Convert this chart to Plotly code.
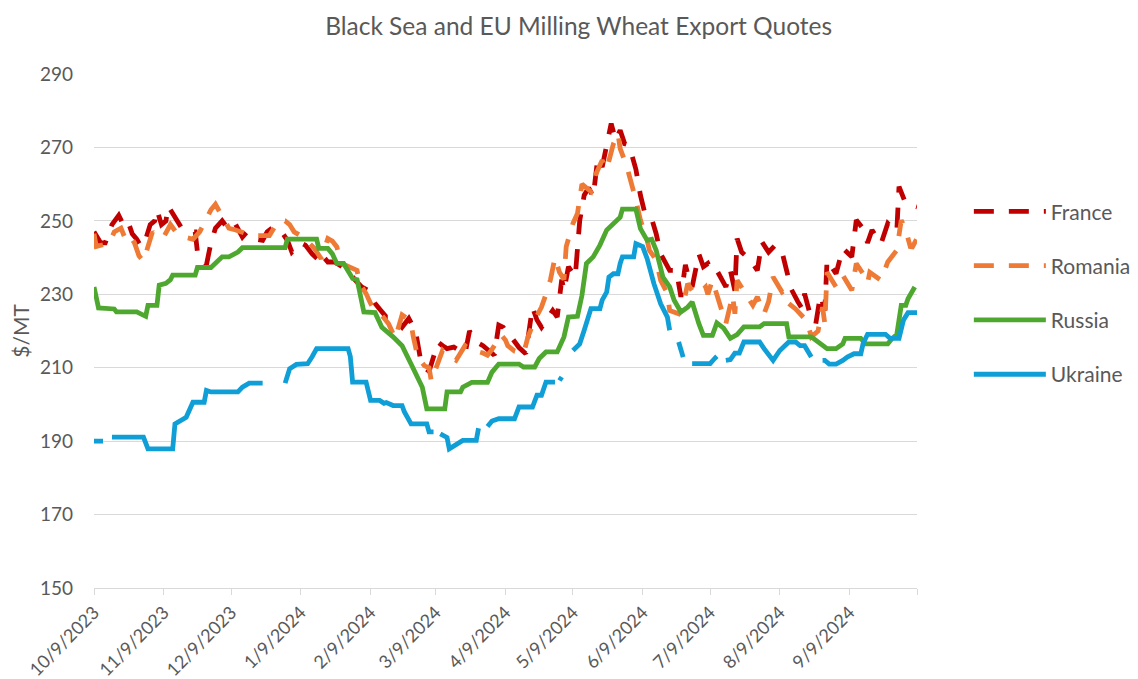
import pandas as pd
import plotly.graph_objects as go

# Daily quotes, $/MT. Days are counted from 10/9/2023; None marks a missing quote.
start = pd.Timestamp("2023-10-09")

france_day = [0, 3, 5, 8, 11, 13, 15, 17, 19, 21, 23, 25, 27, 28, 30, 32, 33, 37, 39, 42,
              45, 46, 50, 52, 54, 57, 60, 63, 66, 68, 72, 75, 77, 80, 84, 86, 88, 92, 94, 97,
              100, 101, 104, 107, 110, 113, 116, 119, 122, 125, 127, 130, 133, 137, 140, 143, 145, 147, 149, 151,
              153, 155, 157, 160, 163, 165, 167, 170, 173, 176, 178, 180, 182, 184, 186, 189, 192, 195, 197, 199,
              201, 204, 206, 208, 209, 211, 214, 216, 218, 220, 222, 224, 226, 228, 230, 232, 234, 236, 238, 241,
              243, 245, 248, 250, 252, 256, 259, 261, 263, 264, 266, 269, 271, 273, 275, 277, 281, 283, 285, 286,
              288, 292, 295, 297, 300, 303, 306, 308, 310, 313, 315, 316, 318, 321, 323, 325, 326, 330, 333, 337,
              339, 342, 344, 346, 350, 353, 357, 358, 361, 366]
france = [247, 244, 244, 249, 251.5, 249, 250, 246.5, 245, 243, 245, 249, 250, 253, 249, 250, 254, 250, 248, 247,
          247, 241.5, 238, 244, 248, 250, 247.5, 249, 245.6, 247, 245, 244.7, 247, 248.4, 246.5, 244.7, 241.5, 244, 243.4, 241,
          239.3, 241, 238.8, 238.8, 237.5, 236.5, 234, 232, 231, 227.5, 226, 223.8, 223.8, 221, 223.4, 220, 213, 210, 209, 213,
          217, 216, 215.2, 215.6, 214.7, 213.8, 220, 217, 216, 214.5, 213.4, 221.6, 221, 219, 218, 215.5, 213.8, 226.5, 223, 221,
          223, 225.6, 223.8, 234, 231, 237.5, 234.7, 250, 257, 259, 256.5, 267, 264.7, 270, 276.5, 272, 274.7, 271, 270.6, 264,
          257, 252, 250.6, 246.5, 241, 236.5, 236.5, 229.3, 238, 235.6, 232, 241, 237.5, 238.4, 236.1, 236.5, 232, 236.5, 231, 245.2,
          241.5, 239.3, 236.5, 244.3, 241.5, 243.4, 241.5, 236.5, 231.5, 228, 226, 230.2, 225.6, 222, 229.7, 225.6, 239.3, 235.6, 242.5, 240.2,
          250.2, 247.9, 244, 247.5, 243.8, 249.3, 247, 259.3, 254.7, 253.8]

romania_day = [0, 1, 4, 7, 9, 12, 14, 16, 18, 20, 22, 24, 26, 28, 31, 34, 36, 37, 40, 44,
               47, 49, 52, 54, 57, 60, 63, 66, 68, 70, 74, 78, 82, 85, 87, 89, 93, 96, 98, 101,
               104, 106, 108, 110, 114, 117, 118, 121, 123, 124, 127, 131, 134, 137, 139, 141, 142, 144, 147, 149,
               150, 153, 155, 158, 161, 163, 165, 167, 169, 173, 175, 177, 181, 183, 184, 187, 191, 193, 196, 199,
               201, 203, 205, 207, 209, 210, 213, 215, 217, 220, 221, 223, 226, 228, 231, 233, 234, 237, 240, 241,
               243, 245, 246, 247, 250, 252, 255, 256, 260, 262, 264, 266, 269, 272, 273, 275, 277, 278, 281, 284,
               285, 286, 290, 293, 295, 298, 300, 302, 306, 307, 309, 312, 316, 317, 319, 322, 324, 325, 326, 330,
               333, 337, 339, 342, 344, 345, 350, 353, 357, 359, 361, 363, 364, 366]
romania = [246.5, 243, 243.5, 244, 247, 248, 245, 246, 244, 240.5, 239, 243, 247, 245.6, 245.6, 249, 247.5, 246.5, 245.6, 245,
           247, 249.5, 253, 254.5, 251, 248, 247.5, 247, 246.5, 246, 246, 246, 250, 250, 249, 247, 245.6, 244, 242.5, 239.7,
           245.2, 244.5, 242.9, 238.4, 237.5, 236.5, 233, 230.2, 227.5, 226.5, 225, 222, 218, 224.4, 223.5, 222, 218.4, 212.9, 210.5, 210,
           206.4, 212, 214.7, 213, 212, 214, 216, 215, 214.7, 214, 213.4, 215, 219, 217.5, 216, 214.5, 213.8, 218.4, 223, 226.5,
           230, 234, 240, 236, 234, 243, 249.3, 252, 260, 258.5, 258, 262.5, 266.5, 264, 271, 273.8, 269.7, 264.7, 258.4, 255.6,
           250.2, 247, 244.7, 242, 239.3, 233.8, 230.2, 225.6, 224.7, 227, 232.9, 231, 230.2, 232, 230, 233.8, 229.7, 227.5, 222, 229.7,
           224.7, 233.8, 229.7, 227, 229.3, 224.7, 228, 234.7, 230.6, 231, 227.5, 226, 223.4, 222.9, 218.4, 220, 226.5, 222, 236, 232,
           235.2, 231.1, 238.4, 235.6, 233, 236, 233.8, 238.8, 242, 250.2, 247.5, 243, 242.9, 245.2]

russia_day = [0, 2, 9, 10, 19, 23, 24, 28, 29, 32, 34, 35, 45, 46, 52, 55, 57, 60, 64, 66,
              85, 86, 99, 100, 104, 106, 108, 111, 113, 115, 117, 120, 125, 128, 133, 137, 141, 146, 148, 156,
              157, 163, 164, 168, 175, 177, 180, 189, 191, 196, 198, 201, 206, 209, 211, 215, 217, 219, 222, 225,
              228, 232, 234, 235, 241, 243, 246, 248, 250, 253, 256, 258, 261, 264, 266, 269, 271, 275, 277, 280,
              283, 286, 289, 296, 298, 308, 309, 319, 323, 326, 330, 333, 334, 341, 343, 353, 355, 357, 359, 361,
              362, 365]
russia = [232, 226.3, 226, 225.2, 225.2, 224, 227, 227, 232.5, 233, 234, 235.2, 235.2, 237.3, 237.3, 239.3, 240.2, 240.2, 241.5, 242.7,
          242.7, 245, 245, 242.5, 242.5, 241, 238.4, 238.4, 236.5, 234.3, 234, 225.2, 225, 221, 218.4, 216, 211, 204.7, 198.8, 198.8,
          203.4, 203.4, 204.7, 206, 206, 208.8, 211, 211, 210.2, 210.2, 212.5, 214.3, 214.3, 218.4, 223.8, 224, 229.7, 238.4, 240.2, 243.4,
          247.5, 249.7, 251, 253.2, 253.2, 247.9, 244.7, 245, 242, 234.7, 232, 228.4, 225.2, 226.5, 227.9, 222, 218.8, 218.8, 222.2, 220.8,
          218, 219, 221.1, 221.1, 222, 222, 218.4, 218.4, 216.5, 215.2, 215.2, 216.5, 218, 218, 216.5, 216.5, 218, 219, 227, 227,
          228.8, 232]

ukraine_day = [0, 4, 6, 8, 22, 24, 35, 36, 38, 41, 44, 49, 50, 52, 64, 66, 69, 75, 80, 85,
               87, 90, 95, 97, 99, 113, 114, 115, 121, 123, 127, 129, 130, 133, 137, 138, 141, 148, 149, 151,
               153, 154, 157, 158, 161, 164, 170, 171, 173, 175, 177, 180, 187, 189, 195, 197, 199, 201, 205, 206,
               207, 208, 210, 213, 216, 218, 221, 225, 226, 228, 229, 231, 233, 234, 235, 240, 241, 244, 246, 249,
               252, 255, 256, 258, 260, 262, 264, 266, 274, 276, 277, 279, 281, 283, 285, 287, 289, 296, 298, 302,
               305, 309, 312, 314, 316, 319, 322, 324, 325, 327, 330, 333, 335, 338, 341, 342, 344, 352, 354, 358,
               360, 362, 366]
ukraine = [190, 190, None, 191.1, 191.1, 187.9, 187.9, 194.7, 195.5, 196.5, 200.6, 200.6, 203.8, 203.4, 203.4, 204.7, 205.8, 205.8, None, 205.8,
           209.7, 210.9, 211.1, 213, 215.2, 215.2, 213, 206.1, 206.1, 201.1, 201.1, 200.3, 200.5, 199.7, 199.7, 198, 194.7, 194.7, 192.5, 192.5,
           None, 192, 191, 187.9, 189, 190.2, 190.2, 193.5, None, 194, 195.5, 196.1, 196.1, 199.3, 199.3, 202.5, 202.5, 206.1, 206.1, None,
           206.5, 207.5, None, 214.7, 216.5, 220.2, 226.1, 226.1, 228.4, 230.6, 234.7, 235.6, 235.6, 238.4, 240.2, 240.2, 243.8, 243, 239.7, 232.9,
           227.4, 223.8, 220.2, None, 217, 212.9, None, 211.1, 211.1, 212.5, 213.1, None, 212, 212.2, 214, 214, 217, 217, 215.2, 212,
           214.7, 217, 217, 216, 216, 212.9, None, 212, 212, 211, 211, 212, 212.9, 213.8, 213.8, 216.5, 219.1, 219.1, 218, 218,
           223, 225, 225]

tick_dates = ["2023-10-09", "2023-11-09", "2023-12-09", "2024-01-09", "2024-02-09", "2024-03-09",
              "2024-04-09", "2024-05-09", "2024-06-09", "2024-07-09", "2024-08-09", "2024-09-09", "2024-10-09"]
tick_text = ["10/9/2023", "11/9/2023", "12/9/2023", "1/9/2024", "2/9/2024", "3/9/2024",
             "4/9/2024", "5/9/2024", "6/9/2024", "7/9/2024", "8/9/2024", "9/9/2024", ""]

series = [
    ("France", france_day, france, "#C00000", "20px,15px"),
    ("Romania", romania_day, romania, "#EE7A35", "20px,15px"),
    ("Russia", russia_day, russia, "#4EA72E", "solid"),
    ("Ukraine", ukraine_day, ukraine, "#0F9ED5", "solid"),
]

FONT = "Lato"
GREY = "#595959"

fig = go.Figure()
for name, days, values, color, dash in series:
    fig.add_trace(go.Scatter(
        x=start + pd.to_timedelta(days, unit="D"),
        y=values,
        mode="lines",
        name=name,
        legendgroup=name,
        connectgaps=False,
        line=dict(color=color, width=4.8, dash=dash),
        hoverinfo="skip",
    ))

# the page body keeps its default 8px margin, so the figure is 8px smaller each way
fig.update_layout(
    width=1130,
    height=671,
    margin=dict(l=86, r=221, t=66, b=91, autoexpand=False),
    paper_bgcolor="white",
    plot_bgcolor="white",
    font=dict(family=FONT, color=GREY),
    title=dict(
        text="Black Sea and EU Milling Wheat Export Quotes",
        x=0.505, xanchor="center", xref="container",
        y=0.972, yanchor="middle", yref="container",
        font=dict(size=24.5, color=GREY),
        automargin=False,
    ),
    xaxis=dict(
        range=["2023-10-09", "2024-10-09"],
        tickvals=tick_dates,
        ticktext=tick_text,
        tickangle=-45,
        ticks="outside",
        ticklen=6,
        tickcolor="#D9D9D9",
        showline=True,
        linecolor="#D9D9D9",
        linewidth=1,
        showgrid=False,
        zeroline=False,
        automargin=False,
        tickfont=dict(size=18, color=GREY),
    ),
    yaxis=dict(
        range=[150, 290],
        tickvals=[150, 170, 190, 210, 230, 250, 270, 290],
        showgrid=True,
        gridcolor="#D9D9D9",
        gridwidth=1,
        zeroline=False,
        ticks="",
        ticklabelstandoff=20,
        automargin=False,
        tickfont=dict(size=19, color=GREY),
        title=dict(text="$/MT", font=dict(size=21, color=GREY), standoff=10),
    ),
    legend=dict(
        x=1.063, xanchor="left",
        y=0.772, yanchor="top",
        font=dict(size=21, color=GREY),
        itemwidth=72,
        tracegroupgap=24,
        bgcolor="rgba(0,0,0,0)",
    ),
    showlegend=True,
)

fig.write_html("out.html")
